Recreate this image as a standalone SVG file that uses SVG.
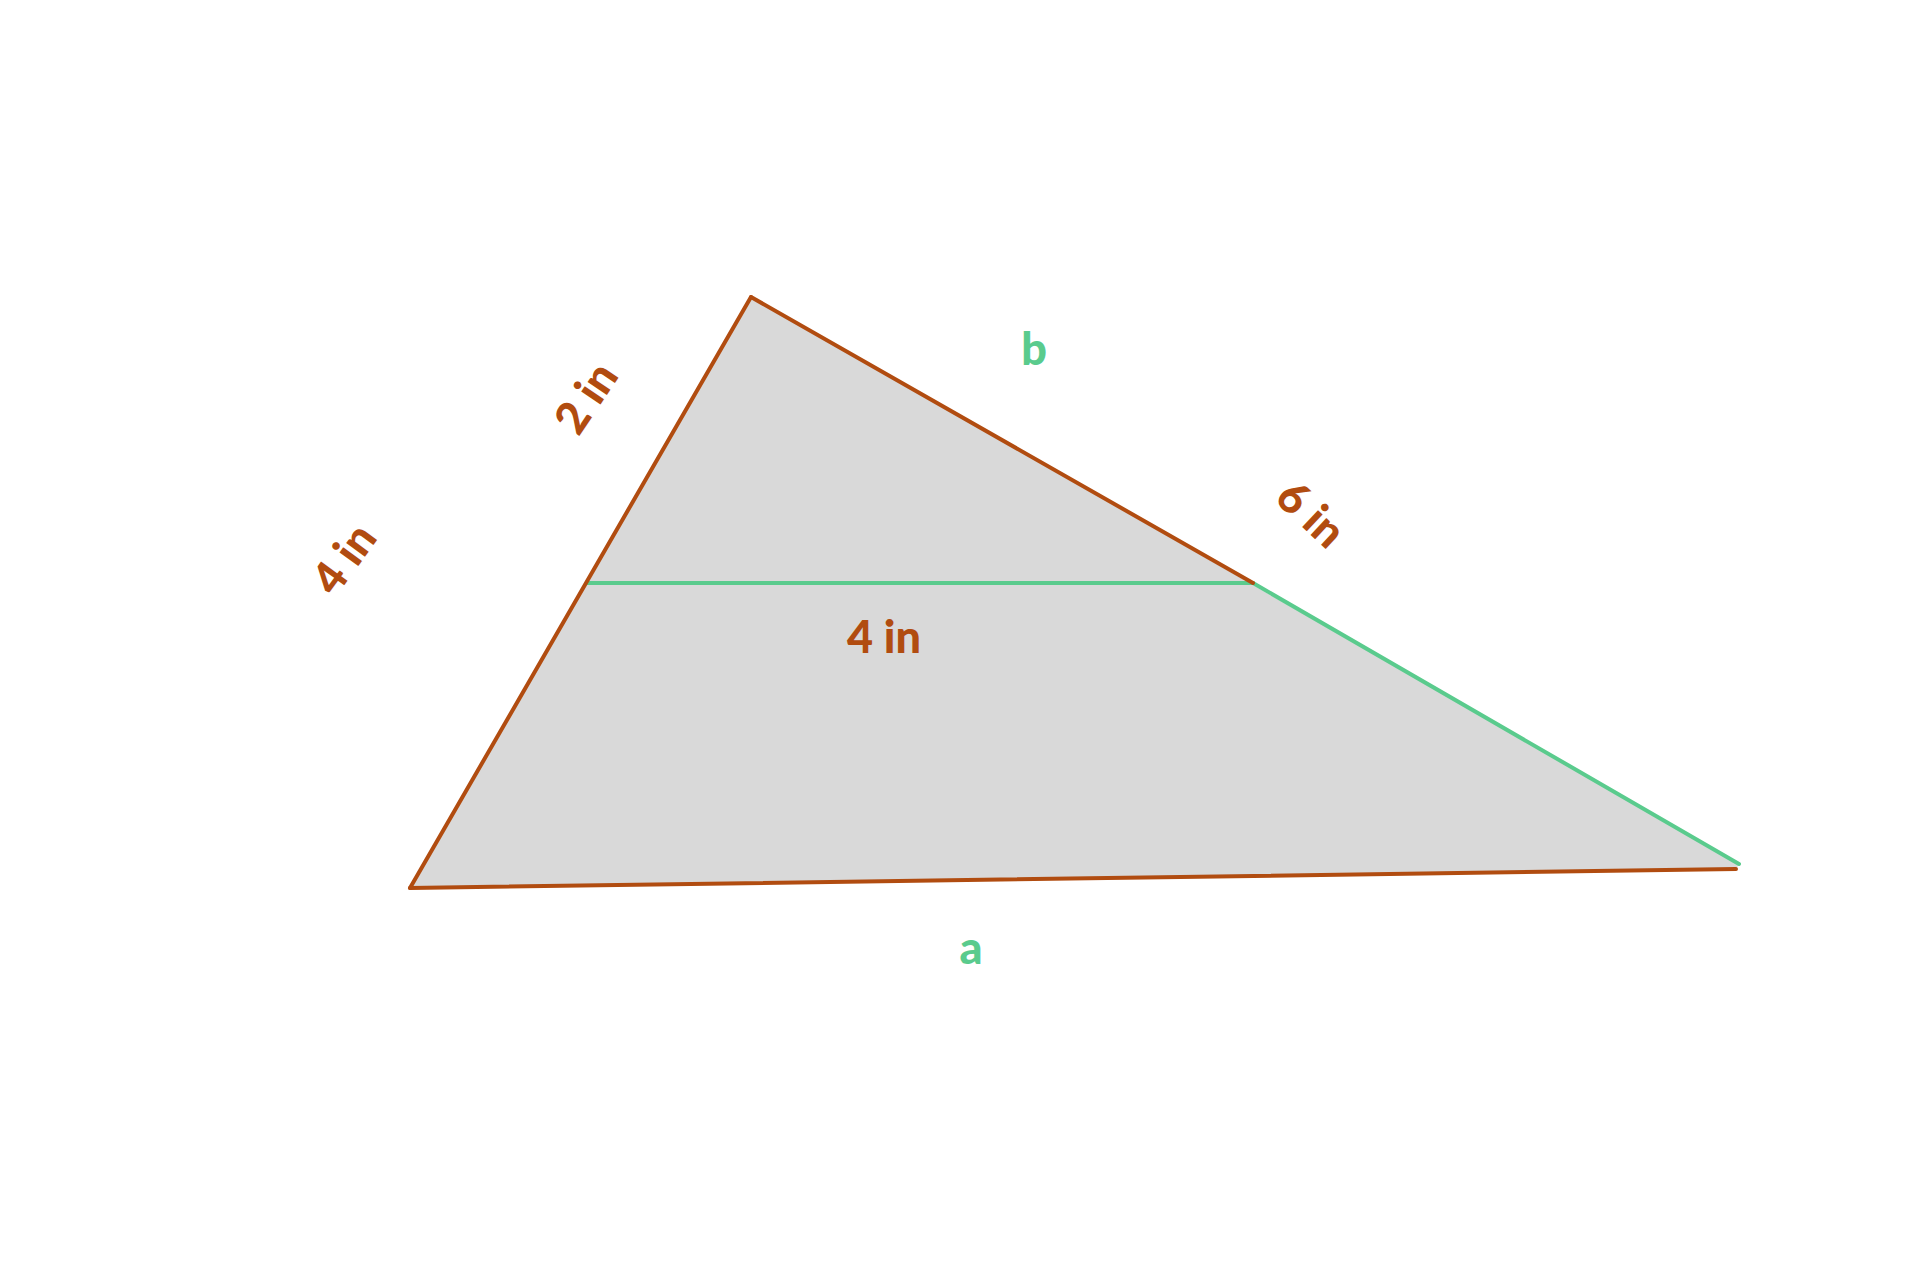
<svg xmlns="http://www.w3.org/2000/svg" width="1920" height="1280" viewBox="0 0 1920 1280">
  <style>
    .brown { stroke: #B14C10; stroke-width: 4; fill: none; stroke-linecap: round; }
    .green { stroke: #5ACB8D; stroke-width: 4; fill: none; stroke-linecap: round; }
    .lbl { font-family: Lato, "Open Sans", "Liberation Sans", sans-serif; font-weight: 900; font-size: 45px; text-anchor: middle; dominant-baseline: central; }
    .lb { fill: #B14C10; }
    .lg { fill: #5ACB8D; }
  </style>
  <rect x="0" y="0" width="1920" height="1280" fill="#FFFFFF"/>
  <g id="triangle">
    <polygon points="751,297 410,888 1736,869 1739,864" fill="#D9D9D9"/>
  </g>
  <g id="connectors">
    <line class="green" x1="587" y1="583" x2="1253" y2="583"/>
    <line class="green" x1="1253" y1="583" x2="1739" y2="864"/>
    <line class="brown" x1="751" y1="297" x2="410" y2="888"/>
    <line class="brown" x1="751" y1="297" x2="1253" y2="583"/>
    <line class="brown" x1="410" y1="888" x2="1736" y2="869"/>
  </g>
  <g id="labels">
    <text class="lbl lb" transform="translate(343,558) rotate(-54)">4 in</text>
    <text class="lbl lb" transform="translate(585,397) rotate(-56)">2 in</text>
    <text class="lbl lb" transform="translate(1312,513) rotate(43)">6 in</text>
    <text class="lbl lb" x="884" y="636">4 in</text>
    <text class="lbl lg" x="1034" y="348">b</text>
    <text class="lbl lg" x="971" y="947">a</text>
  </g>
</svg>
